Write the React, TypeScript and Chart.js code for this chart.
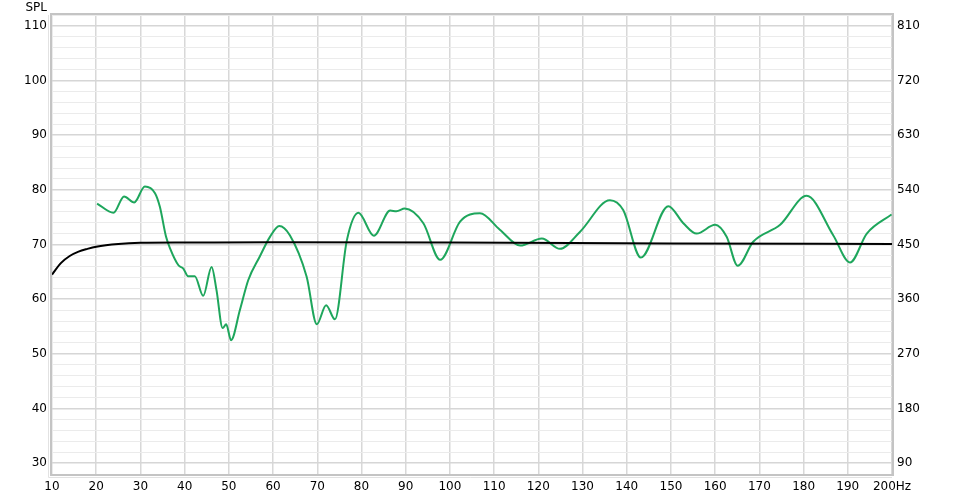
import React, { useEffect, useRef } from "react";
import { Chart, registerables } from "chart.js";

Chart.register(...registerables);

const freqGreen = [20.2, 23.9, 26.3, 28.6, 31.0, 33.3, 34.4, 35.8, 36.7, 38.6, 39.7, 40.8, 42.3, 44.2, 46.1, 47.2, 48.6, 49.4, 50.5, 52.5, 54.4, 57.0, 59.3, 61.4, 63.8, 67.6, 69.9, 72.0, 74.0, 76.7, 79.3, 82.8, 86.5, 87.9, 89.8, 94.0, 97.8, 102.3, 106.8, 111.3, 115.9, 120.8, 124.9, 129.4, 136.2, 139.2, 143.2, 149.4, 152.8, 155.8, 160.0, 162.6, 165.1, 168.6, 174.7, 180.7, 186.7, 190.5, 194.3, 199.9];
const splGreen = [77.5, 75.8, 78.8, 77.7, 80.6, 79.4, 76.9, 71.4, 69.3, 66.2, 65.6, 64.2, 64.2, 60.6, 65.9, 61.7, 54.7, 55.4, 52.5, 58.0, 63.5, 67.8, 71.4, 73.4, 71.7, 64.1, 55.4, 58.9, 56.3, 70.8, 75.8, 71.6, 76.2, 76.1, 76.6, 73.9, 67.2, 74.2, 75.7, 72.7, 69.8, 71.1, 69.2, 72.3, 78.1, 76.3, 67.6, 77.0, 73.9, 72.0, 73.6, 71.4, 66.1, 70.5, 73.6, 78.9, 71.7, 66.7, 72.0, 75.5];

const freqBlack = [10, 12, 14, 16, 18, 20, 25, 30, 40, 60, 100, 150, 200];
const splBlack = [64.5, 66.6, 67.9, 68.7, 69.2, 69.6, 70.1, 70.3, 70.35, 70.4, 70.35, 70.2, 70.1];

const xTicks = [10, 20, 30, 40, 50, 60, 70, 80, 90, 100, 110, 120, 130, 140, 150, 160, 170, 180, 190, 200];
const leftTicks = [30, 40, 50, 60, 70, 80, 90, 100, 110];
const rightTicks = [90, 180, 270, 360, 450, 540, 630, 720, 810];

const FONT = { family: "'DejaVu Sans', sans-serif", size: 12 };

export default function App() {
  const ref = useRef<HTMLCanvasElement | null>(null);

  useEffect(() => {
    document.body.style.margin = "0";
    const canvas = ref.current!;
    const framePlugin = {
      id: "frame",
      afterDraw(chart: any) {
        const { ctx, chartArea: a } = chart;
        ctx.save();
        ctx.strokeStyle = "#c4c4c4";
        ctx.lineWidth = 2;
        ctx.strokeRect(a.left - 1, a.top - 1, a.right - a.left + 2, a.bottom - a.top + 2);
        ctx.strokeStyle = "#e2e2e2";
        ctx.lineWidth = 1;
        ctx.beginPath();
        ctx.moveTo(a.left - 3.5, a.top);
        ctx.lineTo(a.left - 3.5, a.bottom + 3.5);
        ctx.lineTo(a.right, a.bottom + 3.5);
        ctx.stroke();
        ctx.fillStyle = "#000";
        ctx.font = "12px 'DejaVu Sans', sans-serif";
        ctx.textAlign = "right";
        ctx.textBaseline = "middle";
        ctx.fillText("SPL", 47, 8);
        ctx.restore();
      },
    };
    const chart = new Chart(canvas, {
      type: "scatter",
      data: {
        datasets: [
          {
            data: freqBlack.map((x, i) => ({ x, y: splBlack[i] })),
            borderColor: "#000000",
            borderWidth: 2,
            showLine: true,
            pointRadius: 0,
            cubicInterpolationMode: "monotone",
            order: 0,
            yAxisID: "y",
          },
          {
            data: freqGreen.map((x, i) => ({ x, y: splGreen[i] })),
            borderColor: "#1ea65c",
            borderWidth: 2,
            showLine: true,
            pointRadius: 0,
            cubicInterpolationMode: "monotone",
            order: 1,
            yAxisID: "y",
          },
        ],
      },
      options: {
        animation: false,
        responsive: false,
        events: [],
        layout: { padding: { top: 15, left: 0, right: 0, bottom: 0 } },
        plugins: { legend: { display: false }, tooltip: { enabled: false } },
        scales: {
          x: {
            type: "linear",
            min: 10,
            max: 200,
            afterBuildTicks: (s: any) => {
              s.ticks = xTicks.map((v) => ({ value: v }));
            },
            afterFit: (s: any) => {
              s.height = 24;
            },
            ticks: {
              autoSkip: false,
              maxRotation: 0,
              padding: 6,
              color: "#000",
              font: FONT,
              callback: (v: any) => (v === 200 ? "200Hz" : String(v)),
            },
            grid: { color: "#d8d8d8", lineWidth: 1.5, drawTicks: false },
            border: { display: false },
          },
          y: {
            position: "left",
            min: 28,
            max: 112,
            afterBuildTicks: (s: any) => {
              const t: any[] = [];
              for (let v = 28; v <= 112; v += 2) t.push({ value: v });
              s.ticks = t;
            },
            afterFit: (s: any) => {
              s.width = 52;
            },
            ticks: {
              autoSkip: false,
              padding: 5,
              color: "#000",
              font: FONT,
              callback: (v: any) => (leftTicks.includes(v) ? String(v) : ""),
            },
            grid: {
              drawTicks: false,
              color: (c: any) => (c.tick && c.tick.value % 10 === 0 ? "#d6d6d6" : "#ebebeb"),
              lineWidth: (c: any) => (c.tick && c.tick.value % 10 === 0 ? 1.5 : 1),
            },
            border: { display: false },
          },
          y2: {
            position: "right",
            min: 72,
            max: 828,
            afterBuildTicks: (s: any) => {
              s.ticks = rightTicks.map((v) => ({ value: v }));
            },
            afterFit: (s: any) => {
              s.width = 66;
            },
            ticks: {
              autoSkip: false,
              padding: 5,
              color: "#000",
              font: FONT,
            },
            grid: { display: false, drawTicks: false },
            border: { display: false },
          },
        },
      },
      plugins: [framePlugin],
    } as any);
    return () => chart.destroy();
  }, []);

  return (
    <div style={{ position: "fixed", left: 0, top: 0, width: 958, height: 498, background: "#fff" }}>
      <canvas ref={ref} width={958} height={498} style={{ width: 958, height: 498 }} />
    </div>
  );
}
